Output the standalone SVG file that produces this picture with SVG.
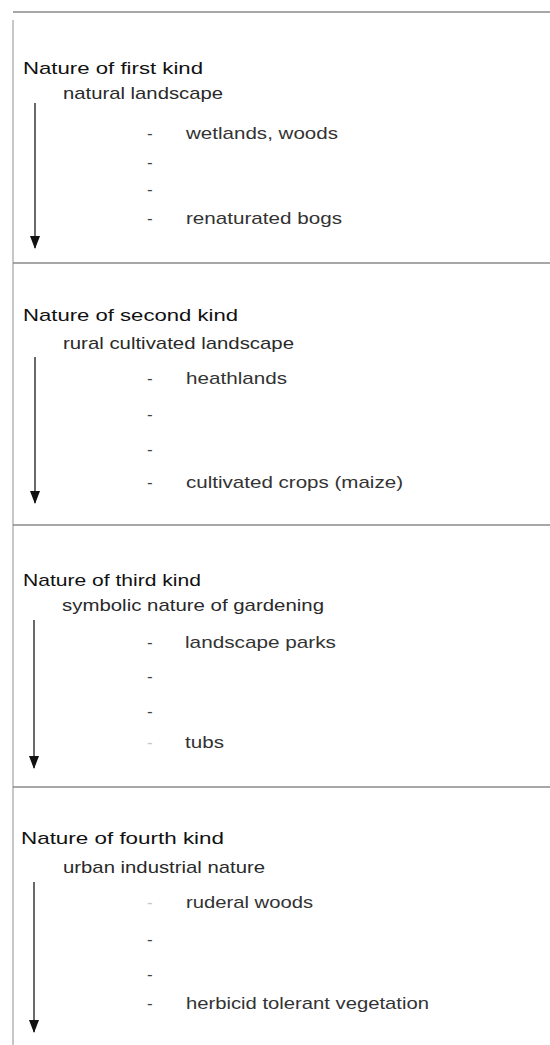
<svg xmlns="http://www.w3.org/2000/svg" width="550" height="1045" viewBox="0 0 550 1045">
  <style>
    .bg { fill: #ffffff; }
    .rule { stroke: #8a8a8a; stroke-width: 1.3; fill: none; }
    .border { stroke: #b5b5b5; stroke-width: 1.5; fill: none; }
    text { font-family: "Liberation Sans", Arial, sans-serif; font-size: 17px; }
    .title { fill: #111111; }
    .sub { fill: #2a2a2a; }
    .item { fill: #333333; }
    .dash { fill: #444444; }
    .faint { fill: #c8c8c8; }
    .arrow { stroke: #2a2a2a; stroke-width: 1.4; fill: none; }
  </style>
  <defs>
    <marker id="head" viewBox="0 0 13 10" refX="12" refY="5" markerWidth="13" markerHeight="10" markerUnits="userSpaceOnUse" orient="auto">
      <path d="M0,0 L13,5 L0,10 Z" fill="#111111"/>
    </marker>
  </defs>
  <rect class="bg" x="0" y="0" width="550" height="1045"/>

  <g id="frame">
    <line class="rule" x1="13" y1="12" x2="550" y2="12"/>
    <line class="border" x1="13" y1="20" x2="13" y2="1045"/>
    <line class="rule" x1="13" y1="263" x2="550" y2="263"/>
    <line class="rule" x1="13" y1="525" x2="550" y2="525"/>
    <line class="rule" x1="13" y1="787" x2="550" y2="787"/>
  </g>

  <g id="connectors">
    <line class="arrow" x1="35" y1="103" x2="35" y2="248" marker-end="url(#head)"/>
    <line class="arrow" x1="35" y1="357" x2="35" y2="503" marker-end="url(#head)"/>
    <line class="arrow" x1="34" y1="620" x2="34" y2="768" marker-end="url(#head)"/>
    <line class="arrow" x1="34" y1="882" x2="34" y2="1032" marker-end="url(#head)"/>
  </g>

  <g id="first-kind">
    <text class="title" x="23" y="74" textLength="180" lengthAdjust="spacingAndGlyphs">Nature of first kind</text>
    <text class="sub" x="63" y="99" textLength="160" lengthAdjust="spacingAndGlyphs">natural landscape</text>
    <text class="dash" x="147" y="139">-</text>
    <text class="item" x="186" y="139" textLength="152" lengthAdjust="spacingAndGlyphs">wetlands, woods</text>
    <text class="dash" x="147" y="168">-</text>
    <text class="dash" x="147" y="195">-</text>
    <text class="dash" x="147" y="224">-</text>
    <text class="item" x="186" y="224" textLength="156" lengthAdjust="spacingAndGlyphs">renaturated bogs</text>
  </g>

  <g id="second-kind">
    <text class="title" x="23" y="321" textLength="215" lengthAdjust="spacingAndGlyphs">Nature of second kind</text>
    <text class="sub" x="63" y="349" textLength="231" lengthAdjust="spacingAndGlyphs">rural cultivated landscape</text>
    <text class="dash" x="147" y="384">-</text>
    <text class="item" x="186" y="384" textLength="101" lengthAdjust="spacingAndGlyphs">heathlands</text>
    <text class="dash" x="147" y="420">-</text>
    <text class="dash" x="147" y="455">-</text>
    <text class="dash" x="147" y="488">-</text>
    <text class="item" x="186" y="488" textLength="217" lengthAdjust="spacingAndGlyphs">cultivated crops (maize)</text>
  </g>

  <g id="third-kind">
    <text class="title" x="23" y="586" textLength="178" lengthAdjust="spacingAndGlyphs">Nature of third kind</text>
    <text class="sub" x="62" y="611" textLength="262" lengthAdjust="spacingAndGlyphs">symbolic nature of gardening</text>
    <text class="dash" x="147" y="648">-</text>
    <text class="item" x="185" y="648" textLength="151" lengthAdjust="spacingAndGlyphs">landscape parks</text>
    <text class="dash" x="147" y="682">-</text>
    <text class="dash" x="147" y="717">-</text>
    <text class="faint" x="147" y="748">-</text>
    <text class="item" x="185" y="748" textLength="39" lengthAdjust="spacingAndGlyphs">tubs</text>
  </g>

  <g id="fourth-kind">
    <text class="title" x="21" y="844" textLength="203" lengthAdjust="spacingAndGlyphs">Nature of fourth kind</text>
    <text class="sub" x="63" y="873" textLength="202" lengthAdjust="spacingAndGlyphs">urban industrial nature</text>
    <text class="faint" x="147" y="908">-</text>
    <text class="item" x="186" y="908" textLength="127" lengthAdjust="spacingAndGlyphs">ruderal woods</text>
    <text class="dash" x="147" y="945">-</text>
    <text class="dash" x="147" y="980">-</text>
    <text class="dash" x="147" y="1009">-</text>
    <text class="item" x="186" y="1009" textLength="243" lengthAdjust="spacingAndGlyphs">herbicid tolerant vegetation</text>
  </g>
</svg>
